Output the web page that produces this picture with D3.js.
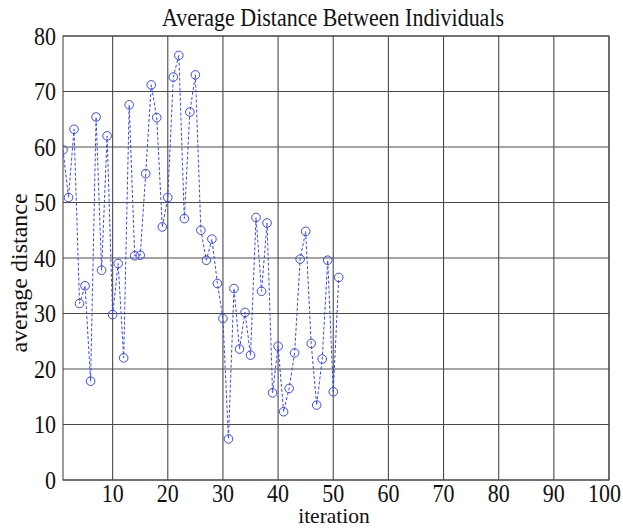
<!DOCTYPE html>
<html>
<head>
<meta charset="utf-8">
<script src="https://cdn.jsdelivr.net/npm/d3@7"></script>
<style>
  html, body { margin: 0; padding: 0; background: #fff; }
  text { font-family: "Liberation Serif", "Times New Roman", serif; fill: #111; }
</style>
</head>
<body>
<svg id="chart" width="623" height="529"></svg>
<script>
const title = "Average Distance Between Individuals";
const xLabel = "iteration";
const yLabel = "average distance";
const iterations = d3.range(1, 52);
const avgDistance = [
  59.5, 50.9, 63.2, 31.8, 35.0, 17.8, 65.4, 37.8, 62.0, 29.8,
  39.0, 22.0, 67.6, 40.4, 40.5, 55.2, 71.2, 65.3, 45.6, 50.9,
  72.6, 76.5, 47.1, 66.3, 73.0, 45.0, 39.6, 43.4, 35.4, 29.1,
  7.4, 34.5, 23.6, 30.2, 22.5, 47.3, 34.0, 46.3, 15.7, 24.1,
  12.3, 16.5, 22.9, 39.8, 44.8, 24.6, 13.5, 21.8, 39.6, 15.9,
  36.5
];
const xTicks = [10, 20, 30, 40, 50, 60, 70, 80, 90, 100];
const yTicks = [0, 10, 20, 30, 40, 50, 60, 70, 80];

const svg = d3.select("#chart");
const W = 623;
const L = 63, R = 609, T = 36, B = 480;
const x = d3.scaleLinear().domain([1, 100]).range([L, R]);
const y = d3.scaleLinear().domain([0, 80]).range([B, T]);
const SY = 1.12; // vertical stretch of text seen in the reference

const gridColor = "#4a4a4a";

// grid
svg.append("g").selectAll("line").data(xTicks).join("line")
  .attr("x1", d => x(d)).attr("x2", d => x(d)).attr("y1", T).attr("y2", B)
  .attr("stroke", gridColor).attr("stroke-width", 1.1);
svg.append("g").selectAll("line").data(yTicks).join("line")
  .attr("x1", L).attr("x2", R).attr("y1", d => y(d)).attr("y2", d => y(d))
  .attr("stroke", gridColor).attr("stroke-width", 1.1);

// frame
svg.append("rect").attr("x", L).attr("y", T).attr("width", R - L).attr("height", B - T)
  .attr("fill", "none").attr("stroke", gridColor).attr("stroke-width", 1.1);

// helper: stretched text at (px, py) baseline
function sText(g, px, py, anchor, size, str, sy = SY) {
  return g.append("text")
    .attr("transform", `translate(${px},${py}) scale(1,${sy})`)
    .attr("text-anchor", anchor).attr("font-size", size).text(str);
}

// x tick labels
const gx = svg.append("g");
xTicks.forEach(d => {
  const t = sText(gx, x(d), 502, "middle", 22, d);
  const w = t.node().getComputedTextLength();
  const cx = Math.min(x(d), W - 2 - w / 2);
  t.attr("transform", `translate(${cx},502) scale(1,${SY})`);
});
// y tick labels
const gy = svg.append("g");
yTicks.forEach(d => sText(gy, 56, y(d) + 8.5, "end", 22, d));

// clip
svg.append("clipPath").attr("id", "clip").append("rect")
  .attr("x", L).attr("y", T).attr("width", R - L).attr("height", B - T);

const pts = iterations.map((it, i) => ({ it, v: avgDistance[i] }));
const lineColor = "#3a48f2";
const plot = svg.append("g").attr("clip-path", "url(#clip)");
plot.append("path")
  .datum(pts)
  .attr("d", d3.line().x(d => x(d.it)).y(d => y(d.v)))
  .attr("fill", "none").attr("stroke", lineColor).attr("stroke-width", 1)
  .attr("stroke-dasharray", "3,2");
plot.selectAll("circle").data(pts).join("circle")
  .attr("cx", d => x(d.it)).attr("cy", d => y(d.v)).attr("r", 4.3)
  .attr("fill", "none").attr("stroke", lineColor).attr("stroke-width", 1);

// title and labels
sText(svg, 333, 26, "middle", 22, title);
svg.append("text").attr("x", 334).attr("y", 523)
  .attr("text-anchor", "middle").attr("font-size", 21.5).text(xLabel);
svg.append("text").attr("transform", "translate(27,273) rotate(-90)")
  .attr("text-anchor", "middle").attr("font-size", 24).text(yLabel);
</script>
</body>
</html>
